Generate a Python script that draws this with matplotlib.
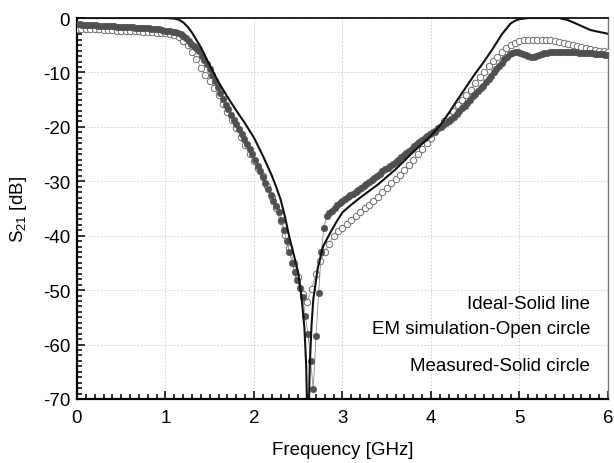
import numpy as np
import matplotlib
matplotlib.use('Agg')
import matplotlib.pyplot as plt
from matplotlib.ticker import MultipleLocator

plt.rcParams['font.family'] = ['Liberation Sans', 'DejaVu Sans']
plt.rcParams['mathtext.fontset'] = 'custom'
plt.rcParams['mathtext.rm'] = 'Liberation Sans'
plt.rcParams['mathtext.it'] = 'Liberation Sans:italic'
plt.rcParams['axes.unicode_minus'] = False

# --- data ---
# ideal response (solid line)
ideal_freq = [0, 1.0, 1.1, 1.15, 1.2, 1.25, 1.3, 1.4, 1.5, 1.6, 1.7, 1.8, 1.9, 2.0,
              2.1, 2.2, 2.25, 2.3, 2.35, 2.4, 2.45, 2.5, 2.54, 2.57, 2.59, 2.6,
              2.61, 2.62, 2.63, 2.65, 2.67, 2.72, 2.78, 2.86, 2.93, 3.0, 3.1, 3.2,
              3.4, 3.6, 3.8, 4.0, 4.1, 4.2, 4.3, 4.4, 4.5, 4.6, 4.7, 4.8, 4.9,
              4.95, 5.0, 5.1, 5.45, 5.55, 5.65, 5.8, 6.0]
ideal_s21 = [0, 0, -0.1, -0.3, -0.8, -1.6, -2.7, -5.4, -8.7, -11.8, -14.5, -17.0,
             -19.4, -22.0, -25.3, -28.9, -31.0, -33.3, -36.5, -40.3, -43.5, -46.8,
             -51.7, -57.0, -64.0, -72.0, -75.0, -72.0, -64.0, -56.5, -51.7, -46.0,
             -42.0, -39.5, -37.5, -35.7, -34.3, -33.0, -30.6, -27.8, -24.6, -21.6,
             -19.8, -17.5, -15.0, -12.6, -10.2, -8.0, -5.6, -3.0, -1.0, -0.5, -0.2,
             0, 0, -0.4, -1.1, -2.2, -2.9]

# EM simulation (open circles), 0.05 GHz sweep
em_freq = np.round(np.arange(0, 6.0001, 0.05), 3)
em_s21 = [
    -2.0, -2.0, -2.0, -2.1, -2.1, -2.1, -2.2, -2.2, -2.2, -2.3,
    -2.3, -2.3, -2.4, -2.4, -2.4, -2.5, -2.6, -2.6, -2.7, -2.7,
    -2.8, -2.9, -3.1, -3.4, -4.2, -5.0, -6.2, -7.6, -9.1, -10.4,
    -11.6, -12.8, -14.2, -15.8, -17.3, -18.8, -20.3, -21.8, -23.4, -24.9,
    -26.3, -27.6, -29.0, -30.9, -32.9, -35.0, -37.3, -39.8, -42.3, -45.0,
    -47.6, -50.7, -52.2, -49.8, -47.0, -44.7, -43.0, -41.5, -40.0, -39.2,
    -38.5, -37.8, -37.1, -36.4, -35.7, -35.0, -34.3, -33.6, -32.8, -32.0,
    -31.2, -30.4, -29.6, -28.8, -27.9, -27.0, -26.0, -25.0, -24.0, -23.0,
    -22.0, -21.0, -20.0, -19.0, -18.0, -17.0, -16.0, -15.0, -14.1, -13.2,
    -11.9, -10.9, -9.9, -8.9, -7.9, -7.1, -6.3, -5.6, -5.0, -4.6,
    -4.3, -4.1, -4.0, -4.0, -4.0, -4.0, -4.1, -4.1, -4.2, -4.4,
    -4.5, -4.7, -4.9, -5.1, -5.3, -5.5, -5.7, -5.8, -6.0, -6.1,
    -6.2]

# measured (solid circles), 0.03 GHz sweep
meas_freq = np.round(np.arange(0, 6.0001, 0.03), 3)
meas_s21 = [
    -1.1, -1.1, -1.2, -1.2, -1.2, -1.3, -1.3, -1.3, -1.4, -1.4,
    -1.4, -1.4, -1.5, -1.5, -1.5, -1.6, -1.6, -1.6, -1.7, -1.7,
    -1.7, -1.7, -1.8, -1.8, -1.8, -1.9, -1.9, -1.9, -2.0, -2.0,
    -2.1, -2.1, -2.2, -2.3, -2.3, -2.4, -2.5, -2.6, -2.8, -3.0,
    -3.3, -3.7, -4.2, -4.7, -5.2, -5.6, -6.1, -6.9, -7.7, -8.5,
    -9.4, -10.4, -11.5, -12.6, -13.8, -14.9, -15.9, -16.8, -17.8, -18.7,
    -19.5, -20.4, -21.3, -22.2, -23.2, -24.1, -25.0, -26.0, -27.1, -28.2,
    -29.3, -30.4, -31.5, -32.6, -33.6, -34.6, -35.6, -37.2, -39.0, -41.0,
    -43.0, -45.0, -46.6, -48.1, -49.7, -51.2, -54.7, -58.0, -63.0, -68.2,
    -58.5, -50.6, -43.0, -38.6, -36.3, -35.8, -35.4, -34.9, -34.4, -34.0,
    -33.6, -33.2, -32.9, -32.6, -32.3, -32.0, -31.6, -31.3, -30.9, -30.5,
    -30.1, -29.8, -29.4, -29.0, -28.6, -28.2, -27.8, -27.5, -27.1, -26.8,
    -26.4, -26.0, -25.6, -25.2, -24.8, -24.4, -24.0, -23.6, -23.2, -22.8,
    -22.5, -22.1, -21.7, -21.4, -21.0, -20.7, -20.3, -20.0, -19.6, -19.3,
    -18.9, -18.5, -18.1, -17.6, -17.1, -16.6, -16.1, -15.6, -15.0, -14.4,
    -13.9, -13.4, -12.9, -12.4, -11.8, -11.2, -10.6, -10.0, -9.4, -8.8,
    -8.2, -7.6, -7.1, -6.7, -6.4, -6.3, -6.3, -6.4, -6.6, -6.8,
    -7.0, -7.2, -7.2, -7.0, -6.8, -6.6, -6.5, -6.4, -6.3, -6.3,
    -6.2, -6.2, -6.2, -6.2, -6.2, -6.3, -6.3, -6.3, -6.3, -6.4,
    -6.4, -6.4, -6.5, -6.5, -6.5, -6.6, -6.6, -6.7, -6.7, -6.8,
    -6.8]

legend_lines = ['Ideal-Solid line', 'EM simulation-Open circle', 'Measured-Solid circle']

FS = 13.5

# --- plot ---
fig = plt.figure(figsize=(6.14, 4.64), dpi=100)
ax = fig.add_axes([0.1254, 0.138, 0.8648, 0.821])

ax.plot(em_freq, em_s21, '-', color='#9a9a9a', lw=0.6, marker='o', ms=4.6,
        mfc='white', mec='#6e6e6e', mew=0.7, zorder=3)
ax.plot(meas_freq, meas_s21, '-', color='#8a8a8a', lw=0.6, marker='o', ms=4.8,
        mfc='#505050', mec='#505050', mew=0.3, zorder=4)
ax.plot(ideal_freq, ideal_s21, '-', color='#111111', lw=1.5, zorder=5)

ax.set_xlim(0, 6)
ax.set_ylim(-70, 0)
ax.xaxis.set_major_locator(MultipleLocator(1))
ax.xaxis.set_minor_locator(MultipleLocator(0.1))
ax.yaxis.set_major_locator(MultipleLocator(10))
ax.yaxis.set_minor_locator(MultipleLocator(1))
ax.tick_params(which='both', direction='in', labelsize=FS, width=1.2,
               top=False, right=False, color='#111111')
ax.tick_params(which='major', length=6)
ax.tick_params(which='minor', length=3.5)
ax.tick_params(axis='y', pad=5)
ax.tick_params(axis='x', pad=7)

ax.grid(True, which='major', color='#cccccc', ls=(0, (2, 2)), lw=0.6)
ax.set_axisbelow(True)

for s in ['left', 'bottom']:
    ax.spines[s].set_linewidth(1.6)
ax.spines['top'].set_linewidth(1.2)
ax.spines['right'].set_linewidth(1.0)
ax.spines['right'].set_color('#777777')

ax.set_xlabel('Frequency [GHz]', fontsize=FS)
ax.set_ylabel(r'S$_{\mathrm{21}}$ [dB]', fontsize=FS)
ax.xaxis.set_label_coords(0.5, -0.11)
ax.yaxis.set_label_coords(-0.09, 0.5)

ax.text(5.8, -52.5, legend_lines[0], ha='right', va='center', fontsize=FS)
ax.text(5.8, -57.0, legend_lines[1], ha='right', va='center', fontsize=FS)
ax.text(5.8, -63.9, legend_lines[2], ha='right', va='center', fontsize=FS)

fig.savefig('out.png', dpi=100)
